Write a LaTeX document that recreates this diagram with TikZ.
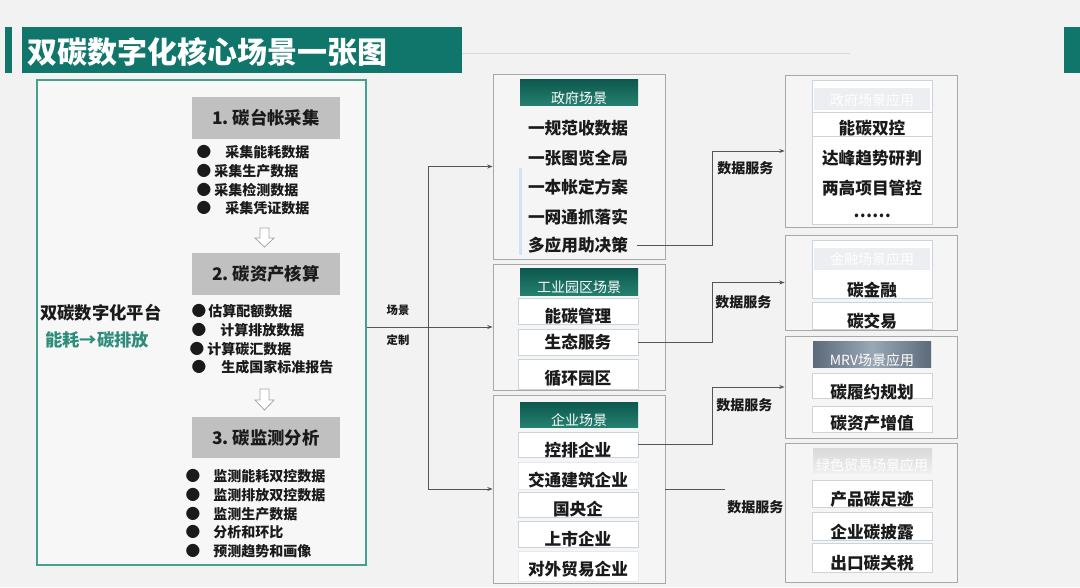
\documentclass[tikz,border=0pt]{standalone}
\usepackage{fontspec}
\setmainfont{Noto Sans CJK SC}
\usetikzlibrary{fit,arrows.meta}
\definecolor{bgc}{HTML}{F2F2F2}
\definecolor{tealA}{HTML}{10766B}
\definecolor{leftborder}{HTML}{45A090}
\definecolor{leftfill}{HTML}{F7F7F7}
\definecolor{grayhead}{HTML}{C0C0C0}
\definecolor{midtop}{HTML}{0C574D}
\definecolor{midbot}{HTML}{25806F}
\definecolor{boxgray}{HTML}{A8A8A8}
\definecolor{boxfill}{HTML}{F5F5F5}
\definecolor{subborder}{HTML}{CBD3DD}
\definecolor{txt}{HTML}{1A1A1A}
\definecolor{platteal}{HTML}{2E8C7B}
\definecolor{linec}{HTML}{555555}
\definecolor{fadestrip}{HTML}{ECEEF1}
\definecolor{mrvdark}{HTML}{5C6A7A}
\definecolor{mrvlight}{HTML}{9AA7B5}
\definecolor{bluebar}{HTML}{D3E2F0}
\begin{document}
\begin{tikzpicture}[x=0.75pt,y=-0.75pt,
  leftbox/.style={draw=leftborder, fill=leftfill, line width=1.1pt, inner sep=0pt},
  grayhd/.style={fill=grayhead, inner sep=0pt},
  hdtxt/.style={font=\fontsize{13}{15}\selectfont\bfseries, text=txt, inner sep=0pt},
  bultxt/.style={font=\fontsize{10.5}{12}\selectfont\bfseries, text=txt, inner sep=0pt, anchor=west},
  bulmark/.style={font=\fontsize{11}{12}\selectfont, text=txt, inner sep=0pt},
  midbox/.style={draw=boxgray, fill=boxfill, line width=0.6pt, inner sep=0pt},
  tealhd/.style={top color=midtop, bottom color=midbot, inner sep=0pt},
  tealtxt/.style={font=\fontsize{10.5}{12}\selectfont, text=white, inner sep=0pt},
  subbox/.style={draw=subborder, fill=white, line width=0.5pt, inner sep=0pt},
  itemtxt/.style={font=\fontsize{12.5}{14}\selectfont\bfseries, text=txt, inner sep=0pt},
  midtxt/.style={itemtxt, minimum width=88.5pt},
  fadetxt/.style={font=\fontsize{10.5}{12}\selectfont, text=white, inner sep=0pt},
  svc/.style={font=\fontsize{10.5}{12}\selectfont\bfseries, text=txt, inner sep=0pt, anchor=west},
  conn/.style={draw=linec, line width=0.6pt},
  arr/.style={-{Stealth[length=4pt,width=3pt]}},
  hollow/.style={draw=gray!70, fill=white, line width=0.6pt}
]
\useasboundingbox (0,0) rectangle (1080,587);
\fill[bgc] (0,0) rectangle (1080,587);

% ---- title ----
\fill[tealA] (5,27) rectangle (12,73);
\node[fit={(22,27)(462,73)}, inner sep=0pt, fill=tealA] (titlebar) {};
\node[anchor=west, text=white, inner sep=0pt, font=\fontsize{22.5}{25}\selectfont\bfseries] (title) at (27,52) {双碳数字化核心场景一张图};
\fill[tealA] (1064,27) rectangle (1080,73);
\coordinate (tlineend) at (850,53);
\draw[gray!30, line width=0.5pt] (titlebar.east |- tlineend) -- (tlineend);

% ---- left platform box ----
\node[leftbox, fit={(37,80)(366,565)}] (L) {};
\node[anchor=west, inner sep=0pt, font=\fontsize{13}{15}\selectfont\bfseries, text=txt] (plat) at (40,313) {双碳数字化平台};
\node[anchor=west, inner sep=0pt, font=\fontsize{13}{15}\selectfont\bfseries, text=platteal] (plat2) at (45,340) {能耗→碳排放};

\node[grayhd, fit={(192,97)(340,139)}] (h1) {};
\node[hdtxt] (h1t) at (h1.center) {1.\ 碳台帐采集};
\node[grayhd, fit={(192,253)(340,295)}] (h2) {};
\node[hdtxt] (h2t) at (h2.center) {2.\ 碳资产核算};
\node[grayhd, fit={(192,417)(340,458)}] (h3) {};
\node[hdtxt] (h3t) at (h3.center) {3.\ 碳监测分析};

% list 1
\node[bulmark] (b11) at (204,152) {●}; \node[bultxt] (t11) at (225,152) {采集能耗数据};
\node[bulmark] (b12) at (204,171) {●}; \node[bultxt] (t12) at (214,171) {采集生产数据};
\node[bulmark] (b13) at (204,190) {●}; \node[bultxt] (t13) at (214,190) {采集检测数据};
\node[bulmark] (b14) at (204,208) {●}; \node[bultxt] (t14) at (225,208) {采集凭证数据};
% list 2
\node[bulmark] (b21) at (199,311) {●}; \node[bultxt] (t21) at (208,311) {估算配额数据};
\node[bulmark] (b22) at (199,330) {●}; \node[bultxt] (t22) at (220,330) {计算排放数据};
\node[bulmark] (b23) at (197,349) {●}; \node[bultxt] (t23) at (207,349) {计算碳汇数据};
\node[bulmark] (b24) at (199,367) {●}; \node[bultxt] (t24) at (221,367) {生成国家标准报告};
% list 3
\node[bulmark] (b31) at (193,476) {●}; \node[bultxt] (t31) at (213,476) {监测能耗双控数据};
\node[bulmark] (b32) at (193,495) {●}; \node[bultxt] (t32) at (213,495) {监测排放双控数据};
\node[bulmark] (b33) at (193,514) {●}; \node[bultxt] (t33) at (213,514) {监测生产数据};
\node[bulmark] (b34) at (193,532) {●}; \node[bultxt] (t34) at (213,532) {分析和环比};
\node[bulmark] (b35) at (193,551) {●}; \node[bultxt] (t35) at (213,551) {预测趋势和画像};

% hollow arrows
\draw[hollow] (260,228) -- (269,228) -- (269,238) -- (274,238) -- (264.5,247) -- (255,238) -- (260,238) -- cycle;
\draw[hollow] (260,389) -- (269,389) -- (269,400) -- (274,400) -- (264.5,410) -- (255,400) -- (260,400) -- cycle;

% ---- middle boxes ----
\node[midbox, fit={(493,74)(665,259)}] (m1) {};
\node[midbox, fit={(493,264)(665,390)}] (m2) {};
\node[midbox, fit={(493,395)(665,583)}] (m3) {};

% m1
\node[tealhd, fit={(520,79)(638,105)}] (m1h) {};
\node[tealtxt] (m1ht) at (579,98) {政府场景};
\fill[bluebar] (519,168) rectangle (522,255);
\node[midtxt] (i11) at (578,128) {一规范收数据};
\node[midtxt] (i12) at (578,158) {一张图览全局};
\node[midtxt] (i13) at (578,187) {一本帐定方案};
\node[midtxt] (i14) at (578,217) {一网通抓落实};
\node[midtxt] (i15) at (578,245) {多应用助决策};

% m2
\node[tealhd, fit={(520,268)(638,295)}] (m2h) {};
\node[tealtxt] (m2ht) at (579,287) {工业园区场景};
\node[subbox, fit={(518,298)(638,324)}] (s21) {};
\node[subbox, fit={(518,329)(638,355)}] (s22) {};
\node[subbox, fit={(518,359)(638,389)}] (s23) {};
\node[itemtxt] (s21t) at (578,316) {能碳管理};
\node[itemtxt] (s22t) at (578,342) {生态服务};
\node[itemtxt] (s23t) at (578,378) {循环园区};

% m3
\node[tealhd, fit={(520,402)(638,427)}] (m3h) {};
\node[tealtxt] (m3ht) at (579,420) {企业场景};
\node[subbox, fit={(518,432)(638,457)}] (s31) {};
\node[subbox, draw=subborder!50, fit={(518,462)(638,489)}] (s32) {};
\node[subbox, fit={(518,492)(638,517)}] (s33) {};
\node[subbox, fit={(518,521)(638,547)}] (s34) {};
\node[subbox, draw=subborder!50, fit={(518,551)(638,581)}] (s35) {};
\node[itemtxt] (s31t) at (578,450) {控排企业};
\node[itemtxt] (s32t) at (578,480) {交通建筑企业};
\node[itemtxt] (s33t) at (578,509) {国央企};
\node[itemtxt] (s34t) at (578,539) {上市企业};
\node[itemtxt] (s35t) at (578,569) {对外贸易企业};

% ---- right boxes ----
\node[midbox, fit={(785,75)(957,227)}] (r1) {};
\node[midbox, fit={(785,235)(957,330)}] (r2) {};
\node[midbox, fit={(785,336)(957,438)}] (r3) {};
\node[midbox, fit={(785,443)(957,582)}] (r4) {};

% r1
\node[subbox, fit={(812,80)(932,224)}] (p1) {};
\node[fill=fadestrip, inner sep=0pt, fit={(814,88)(930,110)}] (r1h) {};
\node[fadetxt] (r1ht) at (872,100) {政府场景应用};
\node[subbox, fit={(812,112)(932,136)}] (q11) {};
\node[itemtxt] (q11t) at (872,128) {能碳双控};
\node[itemtxt] (q12t) at (872,158) {达峰趋势研判};
\node[itemtxt] (q13t) at (872,188) {两高项目管控};
\node[itemtxt] (q14t) at (872,216) {……};

% r2
\node[subbox, fit={(812,240)(932,298)}] (p2) {};
\node[fill=fadestrip, inner sep=0pt, fit={(814,248)(930,270)}] (r2h) {};
\node[fadetxt] (r2ht) at (872,259) {金融场景应用};
\node[subbox, fit={(812,302)(932,329)}] (q22) {};
\node[itemtxt] (q21t) at (872,290) {碳金融};
\node[itemtxt] (q22t) at (872,321) {碳交易};

% r3
\node[inner sep=0pt, left color=mrvdark, right color=mrvdark, middle color=mrvlight, fit={(813,341)(931,367)}] (r3h) {};
\node[tealtxt] (r3ht) at (872,360) {MRV场景应用};
\node[subbox, fit={(812,373)(932,398)}] (q31) {};
\node[subbox, fit={(812,406)(932,432)}] (q32) {};
\node[itemtxt] (q31t) at (872,392) {碳履约规划};
\node[itemtxt] (q32t) at (872,423) {碳资产增值};

% r4
\node[inner sep=0pt, top color=gray!30, bottom color=gray!12, fit={(813,448)(932,473)}] (r4h) {};
\node[fadetxt] (r4ht) at (872,465) {绿色贸易场景应用};
\node[subbox, fit={(812,480)(932,507)}] (q41) {};
\node[subbox, fit={(812,512)(932,540)}] (q42) {};
\node[subbox, fit={(812,543)(932,572)}] (q43) {};
\node[itemtxt] (q41t) at (872,499) {产品碳足迹};
\node[itemtxt] (q42t) at (872,532) {企业碳披露};
\node[itemtxt] (q43t) at (872,563) {出口碳关税};

% ---- connectors left -> middle ----
\coordinate (J) at (428,327);
\draw[conn, arr] (L.east |- m2.west) -- (m2.west);
\draw[conn, arr] (J) |- (m1.west);
\draw[conn, arr] (J) |- (m3.west);
\node[font=\fontsize{8.5}{10}\selectfont\bfseries, text=txt, inner sep=0pt] (lab1) at (398,310) {场景};
\node[font=\fontsize{8.5}{10}\selectfont\bfseries, text=txt, inner sep=0pt] (lab2) at (398,340) {定制};

% ---- connectors middle -> right ----
\coordinate (K) at (712,0);
\coordinate (E) at (725,0);
\draw[conn, arr] (i15.east) -| (r1.west -| K) -- (r1.west);
\draw[conn, arr] (s22.east) -| (r2.west -| K) -- (r2.west);
\draw[conn, arr] (s31.east) -| (r3.west -| K) -- (r3.west);
\draw[conn] (m3.east) -- (m3.east -| E);
\node[svc] (d1) at (717,168) {数据服务};
\node[svc] (d2) at (715,302) {数据服务};
\node[svc] (d3) at (716,405) {数据服务};
\node[svc] (d4) at (727,507) {数据服务};
\end{tikzpicture}
\end{document}
